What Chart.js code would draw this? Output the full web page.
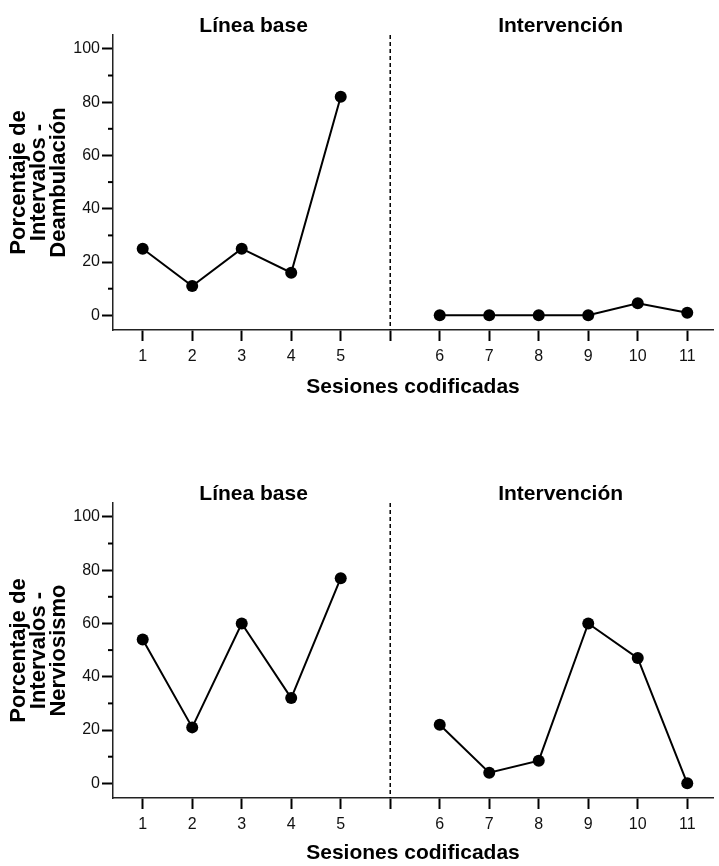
<!DOCTYPE html>
<html><head><meta charset="utf-8">
<script src="https://cdn.jsdelivr.net/npm/chart.js@4.4.1/dist/chart.umd.min.js"></script>
<style>
html,body{margin:0;padding:0;background:#fff;width:719px;height:866px;overflow:hidden}
.box{position:absolute;left:0;width:719px}
</style></head><body>
<div class="box" style="top:0;height:400px"><canvas id="c1"></canvas></div>
<div class="box" style="top:430px;height:436px"><canvas id="c2"></canvas></div>
<script>
// ---- data ----
const xTickLabels = ['1','2','3','4','5','','6','7','8','9','10','11'];
const baselineSessions = [1,2,3,4,5];
const interventionSessions = [6,7,8,9,10,11];
const deambulacionBaseline = [25,11,25,16,82];
const deambulacionIntervention = [0,0,0,0,4.5,1];
const nerviosismoBaseline = [54,21,60,32,77];
const nerviosismoIntervention = [22,4,8.5,60,47,0];
const yMajorTicks = [0,20,40,60,80,100];
const yMinorTicks = [10,30,50,70,90];
const phaseLabels = ['Línea base','Intervención'];
const xTitle = 'Sesiones codificadas';
const yTitleDeambulacion = ['Porcentaje de','Intervalos -','Deambulación'];
const yTitleNerviosismo = ['Porcentaje de','Intervalos -','Nerviosismo'];

const FONT = "'Liberation Sans', Arial, Helvetica, sans-serif";
const pos = s => xTickLabels.indexOf(String(s)) + 1;
const phasePos = xTickLabels.indexOf('') + 1;

const decor = {
  id: 'decor',
  beforeDatasetsDraw(chart) {
    const {ctx, chartArea} = chart;
    const xs = chart.scales.x;
    const px = xs.getPixelForValue(phasePos);
    ctx.save();
    ctx.strokeStyle = '#000';
    ctx.lineWidth = 1.5;
    ctx.setLineDash([4, 3]);
    ctx.beginPath();
    ctx.moveTo(px, chartArea.top);
    ctx.lineTo(px, chartArea.bottom);
    ctx.stroke();
    ctx.restore();
  },
  afterDraw(chart) {
    const {ctx, chartArea} = chart;
    const xs = chart.scales.x, ys = chart.scales.y;
    ctx.save();
    // minor ticks
    ctx.strokeStyle = '#000';
    ctx.lineWidth = 2;
    yMinorTicks.forEach(v => {
      const y = ys.getPixelForValue(v);
      ctx.beginPath();
      ctx.moveTo(chartArea.left - 5, y);
      ctx.lineTo(chartArea.left, y);
      ctx.stroke();
    });
    // phase labels
    const px = xs.getPixelForValue(phasePos);
    ctx.fillStyle = '#000';
    ctx.font = 'bold 21px ' + FONT;
    ctx.textAlign = 'center';
    ctx.textBaseline = 'alphabetic';
    const ty = chartArea.top - 3;
    ctx.fillText(phaseLabels[0], (chartArea.left + px) / 2 + 2, ty);
    ctx.fillText(phaseLabels[1], (px + chartArea.right) / 2 + 9, ty);
    ctx.restore();
  }
};

function makeChart(id, baseVals, intVals, yTitle, areaTop, canvasH) {
  const areaBottom = areaTop + 295;
  const style = {
    borderColor: '#000', backgroundColor: '#000', borderWidth: 2,
    pointRadius: 6, pointHoverRadius: 6, pointBackgroundColor: '#000',
    pointBorderColor: '#000', pointBorderWidth: 0, tension: 0, clip: false
  };
  return new Chart(document.getElementById(id), {
    type: 'line',
    data: {
      datasets: [
        Object.assign({label: phaseLabels[0], data: baselineSessions.map((s, i) => ({x: pos(s), y: baseVals[i]}))}, style),
        Object.assign({label: phaseLabels[1], data: interventionSessions.map((s, i) => ({x: pos(s), y: intVals[i]}))}, style)
      ]
    },
    options: {
      responsive: true, maintainAspectRatio: false, animation: false, devicePixelRatio: 1,
      layout: {padding: {top: areaTop, left: 0, right: 0, bottom: 0}},
      plugins: {legend: {display: false}, tooltip: {enabled: false}},
      scales: {
        x: {
          type: 'linear', min: 0.4, max: 12.52,
          afterBuildTicks(s) { s.ticks = xTickLabels.map((_, i) => ({value: i + 1})); },
          afterFit(s) { s.height = canvasH - areaBottom; },
          grid: {drawOnChartArea: false, drawTicks: true, tickLength: 11, tickWidth: 2, tickColor: '#000'},
          border: {display: true, color: '#222', width: 1.5},
          ticks: {autoSkip: false, maxRotation: 0, minRotation: 0, padding: 6, color: '#111',
                  font: {family: FONT, size: 16}, callback: v => xTickLabels[v - 1] ?? ''},
          title: {display: true, text: xTitle, color: '#000',
                  font: {family: FONT, size: 21, weight: 'bold'}, padding: {top: 0, bottom: 0}}
        },
        y: {
          type: 'linear', min: -5.5, max: 105.2,
          afterBuildTicks(s) { s.ticks = yMajorTicks.map(v => ({value: v})); },
          afterFit(s) { s.width = 113; },
          grid: {drawOnChartArea: false, drawTicks: true, tickLength: 11, tickWidth: 2, tickColor: '#000'},
          border: {display: true, color: '#222', width: 1.5},
          ticks: {padding: 2, color: '#111', font: {family: FONT, size: 16}},
          title: {display: true, text: yTitle, color: '#000',
                  font: {family: FONT, size: 22, weight: 'bold', lineHeight: '20px'}, padding: {top: 9, bottom: 0}}
        }
      }
    },
    plugins: [decor]
  });
}

makeChart('c1', deambulacionBaseline, deambulacionIntervention, yTitleDeambulacion, 35, 400);
makeChart('c2', nerviosismoBaseline, nerviosismoIntervention, yTitleNerviosismo, 73, 436);
</script>
</body></html>
